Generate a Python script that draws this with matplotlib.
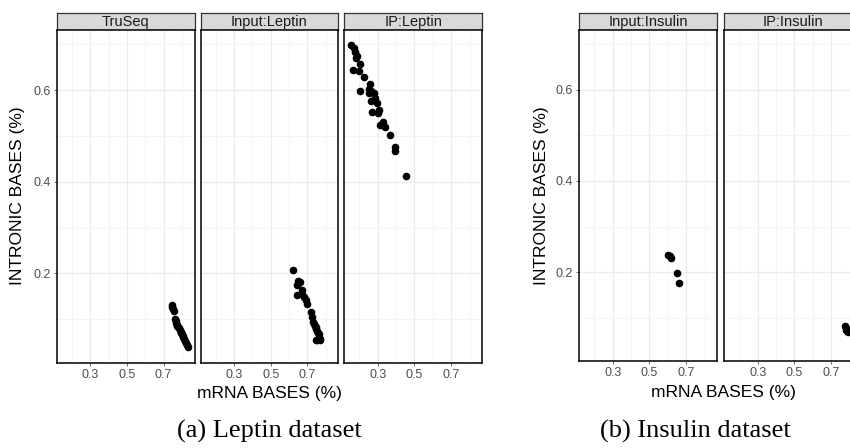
import matplotlib
matplotlib.use("Agg")
import matplotlib.pyplot as plt

# ---- data (mRNA bases, intronic bases) ----
truseq_mrna = [0.745, 0.748, 0.752, 0.755, 0.762, 0.765, 0.768, 0.772, 0.775, 0.780, 0.785,
               0.788, 0.792, 0.795, 0.800, 0.803, 0.808, 0.812, 0.818, 0.822, 0.828, 0.835]
truseq_intronic = [0.132, 0.127, 0.122, 0.118, 0.101, 0.096, 0.092, 0.088, 0.085, 0.083, 0.080,
                   0.077, 0.073, 0.070, 0.067, 0.064, 0.060, 0.056, 0.053, 0.048, 0.043, 0.039]

input_leptin_mrna = [0.622, 0.645, 0.651, 0.662, 0.645, 0.673, 0.668, 0.680, 0.690, 0.695, 0.722,
                     0.725, 0.731, 0.735, 0.740, 0.744, 0.748, 0.752, 0.758, 0.762, 0.765, 0.771,
                     0.744, 0.750, 0.768]
input_leptin_intronic = [0.207, 0.174, 0.183, 0.181, 0.152, 0.163, 0.155, 0.148, 0.141, 0.134, 0.115,
                         0.105, 0.094, 0.090, 0.085, 0.082, 0.078, 0.074, 0.070, 0.068, 0.062, 0.057,
                         0.054, 0.054, 0.055]

ip_leptin_mrna = [0.156, 0.169, 0.178, 0.187, 0.184, 0.202, 0.164, 0.200, 0.224, 0.205, 0.260,
                  0.255, 0.265, 0.278, 0.251, 0.284, 0.265, 0.296, 0.305, 0.269, 0.300, 0.311,
                  0.329, 0.342, 0.364, 0.393, 0.396, 0.456]
ip_leptin_intronic = [0.698, 0.691, 0.684, 0.675, 0.669, 0.656, 0.644, 0.642, 0.629, 0.598, 0.613,
                      0.602, 0.597, 0.593, 0.593, 0.582, 0.575, 0.571, 0.556, 0.553, 0.549, 0.524,
                      0.531, 0.520, 0.502, 0.476, 0.468, 0.412]

input_insulin_mrna = [0.603, 0.612, 0.618, 0.648, 0.662]
input_insulin_intronic = [0.237, 0.235, 0.232, 0.198, 0.176]

ip_insulin_mrna = [0.776, 0.779, 0.782, 0.786, 0.790]
ip_insulin_intronic = [0.081, 0.077, 0.074, 0.071, 0.069]

panels_a = [("TruSeq", truseq_mrna, truseq_intronic),
            ("Input:Leptin", input_leptin_mrna, input_leptin_intronic),
            ("IP:Leptin", ip_leptin_mrna, ip_leptin_intronic)]
panels_b = [("Input:Insulin", input_insulin_mrna, input_insulin_intronic),
            ("IP:Insulin", ip_insulin_mrna, ip_insulin_intronic)]

x_ticks = [0.3, 0.5, 0.7]
y_ticks = [0.2, 0.4, 0.6]

W, H = 850, 448
fig = plt.figure(figsize=(W / 100, H / 100), dpi=100)
plt.rcParams['font.family'] = ['Liberation Sans', 'DejaVu Sans']


def px_axes(x0, x1, y0, y1):
    return fig.add_axes([x0 / W, 1 - y1 / H, (x1 - x0) / W, (y1 - y0) / H])


def draw_panel(x0, y_top, y_bot, name, xs, ys, first):
    width = 138
    # strip
    st = px_axes(x0, x0 + width, 12.7, y_top)
    st.set_facecolor('#D9D9D9')
    st.set_xticks([])
    st.set_yticks([])
    for sp in st.spines.values():
        sp.set_color('#333333')
        sp.set_linewidth(0.9)
    st.text(0.5, 0.45, name, ha='center', va='center', fontsize=10.5, color='#1A1A1A',
            transform=st.transAxes)

    ax = px_axes(x0, x0 + width, y_top, y_bot)
    ax.scatter(xs, ys, s=20, color='black', zorder=3, clip_on=True)
    ax.set_xlim(0.118, 0.869)
    ax.set_ylim(0.005, 0.731)
    ax.set_xticks(x_ticks)
    ax.set_xticklabels([str(t) for t in x_ticks])
    ax.set_yticks(y_ticks)
    ax.set_xticks([0.2, 0.4, 0.6, 0.8], minor=True)
    ax.set_yticks([0.1, 0.3, 0.5, 0.7], minor=True)
    if first:
        ax.set_yticklabels([str(t) for t in y_ticks])
    else:
        ax.set_yticklabels([])
    ax.grid(True, which='major', color='#EBEBEB', linewidth=0.9)
    ax.grid(True, which='minor', color='#F2F2F2', linewidth=0.6)
    ax.set_axisbelow(True)
    ax.tick_params(which='major', length=2.5, width=0.5, color='#333333',
                   labelsize=9, labelcolor='#4D4D4D', pad=2)
    ax.tick_params(which='minor', length=0)
    if not first:
        ax.tick_params(axis='y', length=0)
    for sp in ax.spines.values():
        sp.set_color('black')
        sp.set_linewidth(1.1)
    return ax


# (a) Leptin dataset
for i, (name, xs, ys) in enumerate(panels_a):
    draw_panel(56.7 + i * 143.8, 30, 362.7, name, xs, ys, i == 0)

# (b) Insulin dataset
for i, (name, xs, ys) in enumerate(panels_b):
    draw_panel(579.3 + i * 145, 30, 361, name, xs, ys, i == 0)

# axis titles
fig.text(18 / W, 1 - 196 / H, 'INTRONIC BASES (%)', rotation=90, ha='center', va='center',
         fontsize=12.5, color='black')
fig.text(541.5 / W, 1 - 196 / H, 'INTRONIC BASES (%)', rotation=90, ha='center', va='center',
         fontsize=12.5, color='black')
fig.text(269 / W, 1 - 393 / H, 'mRNA BASES (%)', ha='center', va='center', fontsize=12.5)
fig.text(723.5 / W, 1 - 392 / H, 'mRNA BASES (%)', ha='center', va='center', fontsize=12.5)

# sub-captions
fig.text(269 / W, 1 - 431 / H, '(a) Leptin dataset', ha='center', va='center',
         fontsize=19, family=['Liberation Serif', 'DejaVu Serif'])
fig.text(695 / W, 1 - 431 / H, '(b) Insulin dataset', ha='center', va='center',
         fontsize=19, family=['Liberation Serif', 'DejaVu Serif'])

fig.savefig('out.png', dpi=100)
